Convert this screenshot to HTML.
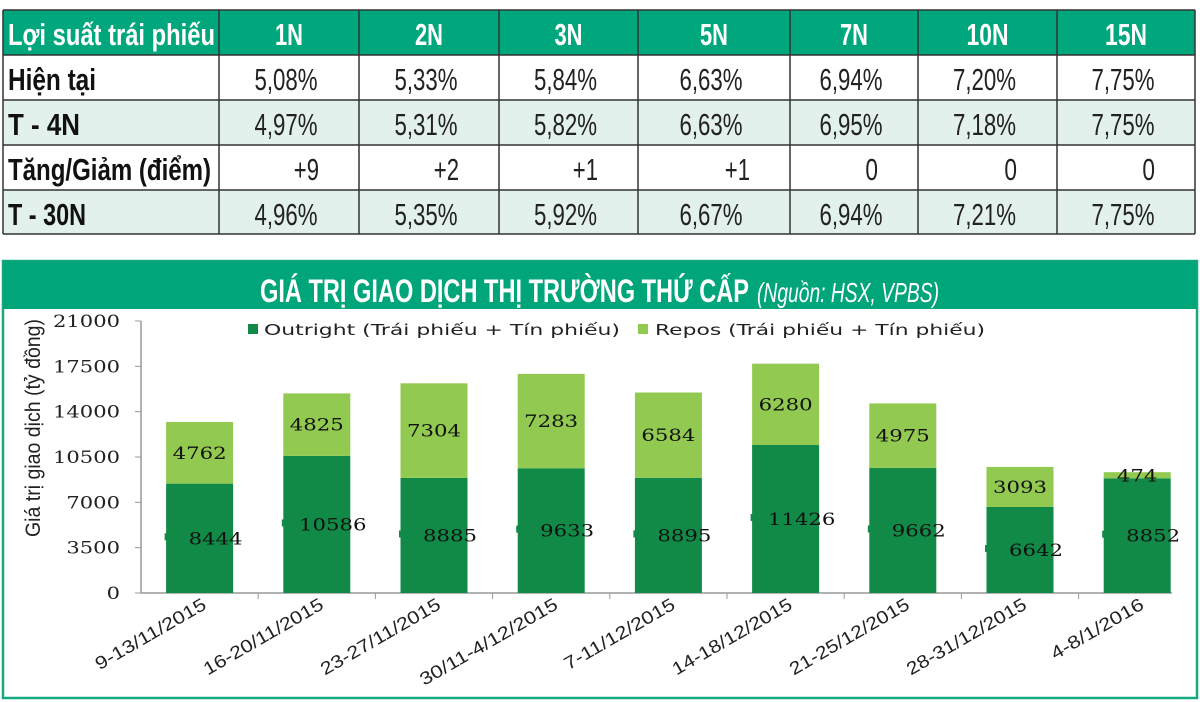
<!DOCTYPE html>
<html><head><meta charset="utf-8"><style>
html,body{margin:0;padding:0;background:#fff;}
svg{display:block;font-family:"Liberation Sans",sans-serif;}
</style></head><body>
<svg id="root" width="1200" height="702" viewBox="0 0 1200 702">
<g id="table"></g>
<g id="chart">
  <rect x="3" y="261" width="1194" height="437" fill="#fff" stroke="#16a97f" stroke-width="2.5"/>
  <rect x="3" y="261" width="1194" height="48" fill="#00a57a"/>
  <text x="260" y="302" font-size="32" font-weight="bold" fill="#fff" textLength="489" lengthAdjust="spacingAndGlyphs">GIÁ TRỊ GIAO DỊCH THỊ TRƯỜNG THỨ CẤP</text>
  <text x="757" y="302" font-size="28" font-style="italic" fill="#fff" textLength="182" lengthAdjust="spacingAndGlyphs">(Nguồn: HSX, VPBS)</text>
  <text transform="translate(40,428) rotate(-90)" text-anchor="middle" font-size="21" fill="#222" textLength="218" lengthAdjust="spacingAndGlyphs">Giá trị giao dịch (tỷ đồng)</text>
  <rect x="248" y="324" width="10" height="10" fill="#118a47"/>
  <text x="264" y="335" font-size="15" font-family="DejaVu Sans,sans-serif" fill="#222" textLength="356" lengthAdjust="spacingAndGlyphs">Outright (Trái phiếu + Tín phiếu)</text>
  <rect x="638" y="324" width="10" height="10" fill="#92c950"/>
  <text x="655" y="335" font-size="15" font-family="DejaVu Sans,sans-serif" fill="#222" textLength="330" lengthAdjust="spacingAndGlyphs">Repos (Trái phiếu + Tín phiếu)</text>
  <g id="plot"></g>
</g>
</svg>
<script>
// ---- table data ----
const colHeads = ["1N","2N","3N","5N","7N","10N","15N"];
const rowHeads = ["Hiện tại","T - 4N","Tăng/Giảm (điểm)","T - 30N"];
const rowCurrent = ["5,08%","5,33%","5,84%","6,63%","6,94%","7,20%","7,75%"];
const rowT4 = ["4,97%","5,31%","5,82%","6,63%","6,95%","7,18%","7,75%"];
const rowChange = ["+9","+2","+1","+1","0","0","0"];
const rowT30 = ["4,96%","5,35%","5,92%","6,67%","6,94%","7,21%","7,75%"];
// ---- chart data ----
const categories = ["9-13/11/2015","16-20/11/2015","23-27/11/2015","30/11-4/12/2015","7-11/12/2015","14-18/12/2015","21-25/12/2015","28-31/12/2015","4-8/1/2016"];
const outright = [8444,10586,8885,9633,8895,11426,9662,6642,8852];
const repos = [4762,4825,7304,7283,6584,6280,4975,3093,474];
const yTicks = [0,3500,7000,10500,14000,17500,21000];

const NS="http://www.w3.org/2000/svg";
function mk(tag, attrs, parent){const e=document.createElementNS(NS,tag);for(const k in attrs)e.setAttribute(k,attrs[k]);parent.appendChild(e);return e;}

// ---- table ----
const T=document.getElementById('table');
const colX=[3,219,359,499,638,790,918,1057,1195];
const rowY=[10,55,100,145,190,234];
const rows=[rowCurrent,rowT4,rowChange,rowT30];
let r=mk('rect',{x:3,y:10,width:1192,height:45,fill:'#00a77d'},T);


for(let i=0;i<4;i++){
  let b=mk('rect',{x:3,y:rowY[i+1],width:1192,height:rowY[i+2]-rowY[i+1],fill:(i%2?'#e3f1ec':'#fff')},T);
  
  
}
let t=mk('text',{x:8,y:45,'font-size':31,'font-weight':'bold',fill:'#fff',textLength:207,lengthAdjust:'spacingAndGlyphs'},T);
t.textContent='Lợi suất trái phiếu';


colHeads.forEach((h,j)=>{
  const cx=(colX[j+1]+colX[j+2])/2;
  let e=mk('text',{x:cx,y:45,'font-size':31,'font-weight':'bold',fill:'#fff','text-anchor':'middle',textLength:h.length*14,lengthAdjust:'spacingAndGlyphs'},T);
  e.textContent=h;
  
  
});
const rhLen=[88,72,203,78];
rowHeads.forEach((h,i)=>{
  const y=rowY[i+1]+35;
  let e=mk('text',{x:8,y:y,'font-size':31,'font-weight':'bold',fill:'#111',textLength:rhLen[i],lengthAdjust:'spacingAndGlyphs'},T);
  e.textContent=h;
  
  
  rows[i].forEach((v,j)=>{
    const right=(i===2);
    const x=right?colX[j+2]-40:(colX[j+1]+colX[j+2])/2-3;
    let c=mk('text',{x:x,y:y,'font-size':31,fill:'#222','text-anchor':right?'end':'middle',textLength:v.length*12.6,lengthAdjust:'spacingAndGlyphs'},T);
    c.textContent=v;
    
    
  });
});
colX.forEach(x=>{let l=mk('line',{x1:x,y1:10,x2:x,y2:234,stroke:'#333','stroke-width':1.5},T);
  
  });
rowY.forEach(y=>{let l=mk('line',{x1:3,y1:y,x2:1195,y2:y,stroke:'#333','stroke-width':1.5},T);
  
  });

// ---- chart ----
const P=document.getElementById('plot');
const x0=141, catW=117.2, y0=593, yTop=321, yMax=21000, barW=67;
const yS=v=>y0-(v/yMax)*(y0-yTop);
const xC=i=>x0+catW*(i+0.5);
yTicks.forEach(v=>{
  let e=mk('text',{x:120,y:yS(v)+6,'font-size':17,'font-family':'DejaVu Serif,serif',fill:'#222','text-anchor':'end',textLength:String(v).length*13.4,lengthAdjust:'spacingAndGlyphs'},P);
  e.textContent=v;
  
  
  let k=mk('line',{x1:135,y1:yS(v),x2:141,y2:yS(v),stroke:'#999'},P);
  
  
});
let ax=mk('line',{x1:141,y1:yTop,x2:141,y2:y0,stroke:'#999','stroke-width':1.5},P);


let xa=mk('line',{x1:141,y1:y0,x2:1172,y2:y0,stroke:'#999','stroke-width':1.5},P);


categories.forEach((c,i)=>{
  const cx=xC(i);
  if(i<categories.length-1){let k=mk('line',{x1:x0+catW*(i+1),y1:y0,x2:x0+catW*(i+1),y2:y0+6,stroke:'#999'},P);
    
    }
  const o=outright[i], rp=repos[i];
  let b1=mk('rect',{x:cx-barW/2,y:yS(o),width:barW,height:y0-yS(o),fill:'#118a47'},P);
  
  
  let b2=mk('rect',{x:cx-barW/2,y:yS(o+rp),width:barW,height:yS(o)-yS(o+rp),fill:'#92c950'},P);
  
  
  const my=yS(o/2);
  let m=mk('rect',{x:cx-35,y:my-5,width:7,height:7,fill:'#118a47'},P);
  
  
  let l1=mk('text',{x:cx+16,y:my+6,'font-size':17,'font-family':'DejaVu Serif,serif',fill:'#111','text-anchor':'middle',textLength:String(o).length*13.5,lengthAdjust:'spacingAndGlyphs'},P);
  l1.textContent=o;
  
  
  let l2=mk('text',{x:cx,y:yS(o+rp/2)+6,'font-size':17,'font-family':'DejaVu Serif,serif',fill:'#111','text-anchor':'middle',textLength:String(rp).length*13.5,lengthAdjust:'spacingAndGlyphs'},P);
  l2.textContent=rp;
  
  
  let xl=mk('text',{transform:`translate(${cx+8},${608}) rotate(-30)`,'font-size':18,fill:'#222','text-anchor':'end',textLength:c.length*10.4,lengthAdjust:'spacingAndGlyphs'},P);
  xl.textContent=c;
  
  
});
</script>
</body></html>
